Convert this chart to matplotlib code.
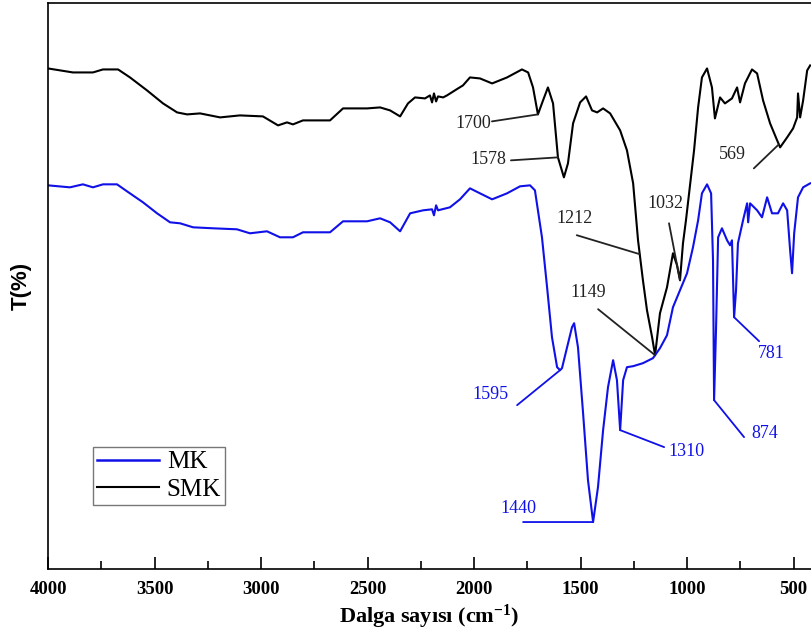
import numpy as np
import matplotlib
matplotlib.use("Agg")
import matplotlib.pyplot as plt
from matplotlib.lines import Line2D

plt.rcParams['font.family'] = ['Liberation Serif', 'DejaVu Serif']
plt.rcParams['mathtext.fontset'] = 'custom'
plt.rcParams['mathtext.rm'] = 'Liberation Serif:bold'
plt.rcParams['mathtext.default'] = 'rm'

# SMK spectrum (wavenumber cm-1, transmittance arb. units)
wn_smk = [4000, 3883, 3789, 3742, 3671, 3615, 3535, 3460, 3394, 3347, 3286, 3192,
          3099, 2991, 2920, 2878, 2850, 2803, 2676, 2615, 2502, 2441, 2394, 2347,
          2310, 2277, 2230, 2207, 2197, 2188, 2178, 2169, 2145, 2127, 2075, 2052,
          2019, 1972, 1915, 1845, 1775, 1746, 1723, 1700, 1676, 1653, 1629, 1606,
          1578, 1559, 1535, 1502, 1474, 1446, 1422, 1394, 1361, 1314, 1282, 1253,
          1230, 1207, 1188, 1164, 1150, 1127, 1094, 1066, 1047, 1033, 1019, 1005,
          986, 967, 948, 930, 906, 883, 869, 845, 822, 789, 765, 751, 728, 695,
          671, 643, 610, 577, 563, 530, 502, 483, 479, 469, 455, 436, 422]
t_smk = [530, 526, 526, 529, 529, 521, 508, 495, 486, 484, 485, 481,
         483, 482, 473, 476, 474, 478, 478, 490, 490, 491, 488, 482,
         495, 501, 500, 503, 496, 505, 497, 502, 501, 503, 510, 513,
         521, 520, 515, 521, 529, 526, 511, 484, 498, 511, 495, 441,
         421, 435, 475, 496, 502, 488, 486, 490, 485, 468, 448, 415,
         358, 318, 288, 261, 243, 285, 311, 345, 333, 318, 355, 378,
         413, 448, 491, 521, 530, 511, 480, 501, 495, 500, 511, 496, 515, 529,
         525, 498, 475, 458, 451, 461, 470, 481, 505, 481, 498, 528, 533]

# MK spectrum
wn_mk = [4000, 3897, 3836, 3789, 3742, 3676, 3629, 3554, 3488, 3427, 3380, 3319,
         3225, 3113, 3052, 2972, 2911, 2850, 2803, 2676, 2615, 2502, 2441, 2394,
         2347, 2300, 2239, 2197, 2188, 2178, 2169, 2113, 2066, 2019, 1972, 1915,
         1845, 1784, 1737, 1714, 1700, 1681, 1657, 1634, 1610, 1596, 1587, 1563,
         1540, 1530, 1512, 1488, 1465, 1441, 1418, 1394, 1371, 1347, 1329, 1314,
         1300, 1282, 1253, 1207, 1160, 1127, 1094, 1066, 1033, 1000, 972, 948,
         930, 906, 887, 878, 873, 864, 854, 836, 812, 798, 789, 779, 770, 761,
         737, 718, 713, 704, 671, 648, 624, 601, 573, 549, 530, 516, 507, 497,
         479, 455, 422]
t_mk = [413, 411, 414, 411, 414, 414, 407, 396, 385, 376, 375, 371,
        370, 369, 365, 367, 361, 361, 366, 366, 377, 377, 380, 376,
        367, 385, 388, 389, 383, 393, 388, 391, 399, 410, 405, 399,
        405, 412, 413, 408, 388, 361, 311, 261, 231, 228, 230, 251,
        271, 275, 251, 185, 118, 76, 111, 168, 211, 238, 218, 168,
        218, 231, 232, 235, 240, 250, 263, 291, 308, 325, 351, 378,
        405, 414, 405, 338, 198, 268, 361, 370, 358, 353, 358, 281, 308, 355,
        378, 395, 376, 395, 388, 381, 401, 385, 385, 395, 388, 348, 325, 365,
        401, 411, 415]

# peak labels and the wavenumber each leader line points to
smk_labels = ['1700', '1578', '1212', '1149', '1032', '569']
smk_ptr = [1700, 1606, 1222, 1150, 1033, 569]
mk_labels = ['1595', '1440', '1310', '874', '781']
mk_ptr = [1596, 1441, 1314, 873, 779]

# leader line start and text centre, offsets in pixels from the pointed spot
smk_off = [((-46, -7), (-65, -9)), ((-47, -3), (-70, -2)), ((-63, 19), (-65, 36)),
           ((-57, 46), (-67, 63)), ((-11, 57), (-15, 77)), ((-25, -24), (-46, -10))]
mk_off = [((-43, -35), (-70, -24)), ((-70, 0), (-75, 14)), ((44, -17), (66, -21)),
          ((30, -37), (51, -33)), ((25, -24), (37, -36))]

blue = '#1010e8'

fig = plt.figure(figsize=(8.11, 6.43), dpi=100)
ax = fig.add_axes([48 / 811, 1 - 569 / 643, 1 - 48 / 811, (569 - 3) / 643])

ax.plot(wn_smk, t_smk, color='black', lw=1.5)
ax.plot(wn_mk, t_mk, color=blue, lw=1.5)


def label_peaks(wn, t, labels, ptr, offs, color):
    wn_r = np.array(wn)[::-1]
    t_r = np.array(t)[::-1]
    for lab, w, (line_off, text_off) in zip(labels, ptr, offs):
        y = np.interp(w, wn_r, t_r)
        ax.annotate('', xy=(w, y), xytext=line_off, textcoords='offset pixels',
                    arrowprops=dict(arrowstyle='-', color=color, lw=1.3,
                                    shrinkA=0, shrinkB=0))
        ax.annotate(lab, xy=(w, y), xytext=text_off, textcoords='offset pixels',
                    ha='center', va='center', color=color, fontsize=13)


label_peaks(wn_smk, t_smk, smk_labels, smk_ptr, smk_off, '#222222')
label_peaks(wn_mk, t_mk, mk_labels, mk_ptr, mk_off, blue)

ax.set_xlim(4000, 418)
ax.set_ylim(29, 595.5)
ax.set_xticks([4000, 3500, 3000, 2500, 2000, 1500, 1000, 500])
ax.set_xticks(np.arange(3750, 400, -500), minor=True)
ax.set_yticks([])
ax.tick_params(axis='x', which='major', direction='in', length=9, width=1.2,
               pad=9, labelsize=13.5)
ax.tick_params(axis='x', which='minor', direction='in', length=6, width=1.2)
for lab in ax.get_xticklabels():
    lab.set_fontweight('bold')
for s in ['left', 'bottom', 'top']:
    ax.spines[s].set_linewidth(1.2)
ax.spines['right'].set_visible(False)

ax.set_xlabel('Dalga sayısı (cm$^{-1}$)', fontsize=16, fontweight='bold', labelpad=3)
ax.set_ylabel('T(%)', fontsize=16, fontweight='bold', family='Liberation Sans', labelpad=12)

handles = [Line2D([], [], color=blue, lw=1.8), Line2D([], [], color='black', lw=1.5)]
leg = ax.legend(handles, ['MK', 'SMK'], loc='upper left', bbox_to_anchor=(0.059, 0.2155),
                borderaxespad=0, fontsize=18, fancybox=False, edgecolor='#777777',
                framealpha=1, handlelength=2.5, handletextpad=0.3, borderpad=0.15,
                labelspacing=0.2)
leg.get_frame().set_linewidth(1.0)

fig.savefig('out.png', dpi=100)
